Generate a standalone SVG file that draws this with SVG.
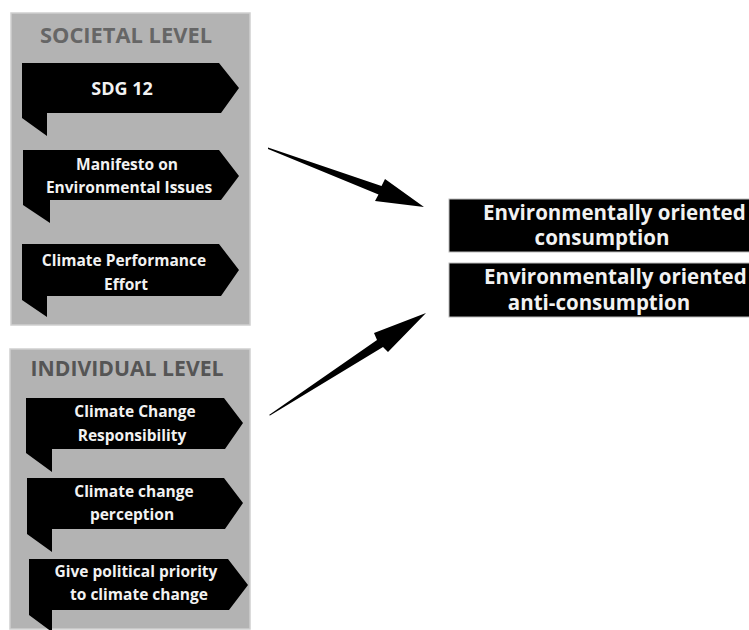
<svg xmlns="http://www.w3.org/2000/svg" width="749" height="630" viewBox="0 0 749 630">
<style>
.panel{fill:#b3b3b3;stroke:#cfcfcf;stroke-width:1.5}
.title{font-family:"Open Sans",sans-serif;font-weight:bold;font-size:22px;text-anchor:middle}
.call{fill:#000}
.t{font-family:"Open Sans",sans-serif;font-weight:bold;font-size:15.5px;fill:#f2f2f2;text-anchor:middle}
.out{fill:#000;stroke:#bbb;stroke-width:1}
.ot{font-family:"Open Sans",sans-serif;font-weight:bold;font-size:20.5px;fill:#f2f2f2}
</style>
<rect width="749" height="630" fill="#fff"/>
<g id="societal">
<rect class="panel" x="11" y="13" width="239" height="312"/>
<text class="title" x="126" y="43" fill="#666" textLength="172" lengthAdjust="spacingAndGlyphs">SOCIETAL LEVEL</text>
</g>
<g id="sdg12">
<polygon class="call" points="22,63 219,63 239,88 221,113 47,113 47,136 22,118"/>
<text class="t" x="122" y="95" style="font-size:18px">SDG 12</text>
</g>
<g id="manifesto">
<polygon class="call" points="23,150 219,150 239,176 221,200 50,200 50,223 23,205"/>
<text class="t" x="127" y="170">Manifesto on</text>
<text class="t" x="129" y="193">Environmental Issues</text>
</g>
<g id="climate-performance">
<polygon class="call" points="22,244 219,244 239,270 221,296 47,296 47,317 22,300"/>
<text class="t" x="124" y="266">Climate Performance</text>
<text class="t" x="126" y="290">Effort</text>
</g>
<g id="individual">
<rect class="panel" x="10" y="349" width="240" height="280"/>
<text class="title" x="127" y="376" fill="#555" textLength="193" lengthAdjust="spacingAndGlyphs">INDIVIDUAL LEVEL</text>
</g>
<g id="responsibility">
<polygon class="call" points="26,398 224,398 243,423 225,449 52,449 52,472 26,453"/>
<text class="t" x="135" y="417">Climate Change</text>
<text class="t" x="132" y="441">Responsibility</text>
</g>
<g id="perception">
<polygon class="call" points="27,478 224,478 243,503 225,529 52,529 52,552 27,534"/>
<text class="t" x="134" y="497">Climate change</text>
<text class="t" x="132" y="520">perception</text>
</g>
<g id="priority">
<polygon class="call" points="29,559 228,559 248,585 229,610 52,610 52,632 29,615"/>
<text class="t" x="136" y="577">Give political priority</text>
<text class="t" x="139" y="600">to climate change</text>
</g>
<g id="consumption">
<rect class="out" x="449" y="199" width="310" height="53"/>
<text class="ot" x="483" y="220">Environmentally oriented</text>
<text class="ot" x="602" y="245" text-anchor="middle">consumption</text>
</g>
<g id="anti-consumption">
<rect class="out" x="449" y="263" width="310" height="54"/>
<text class="ot" x="484" y="284">Environmentally oriented</text>
<text class="ot" x="599" y="310" text-anchor="middle">anti-consumption</text>
</g>
<g id="connectors">
<polygon fill="#000" points="268,147.5 381.5,186 385,179 424,207 375,201 378.5,194.5 268,149"/>
<polygon fill="#000" points="269,415 377,340 374,333 426,313 388,352 383,347 270,415.5"/>
</g>
</svg>
